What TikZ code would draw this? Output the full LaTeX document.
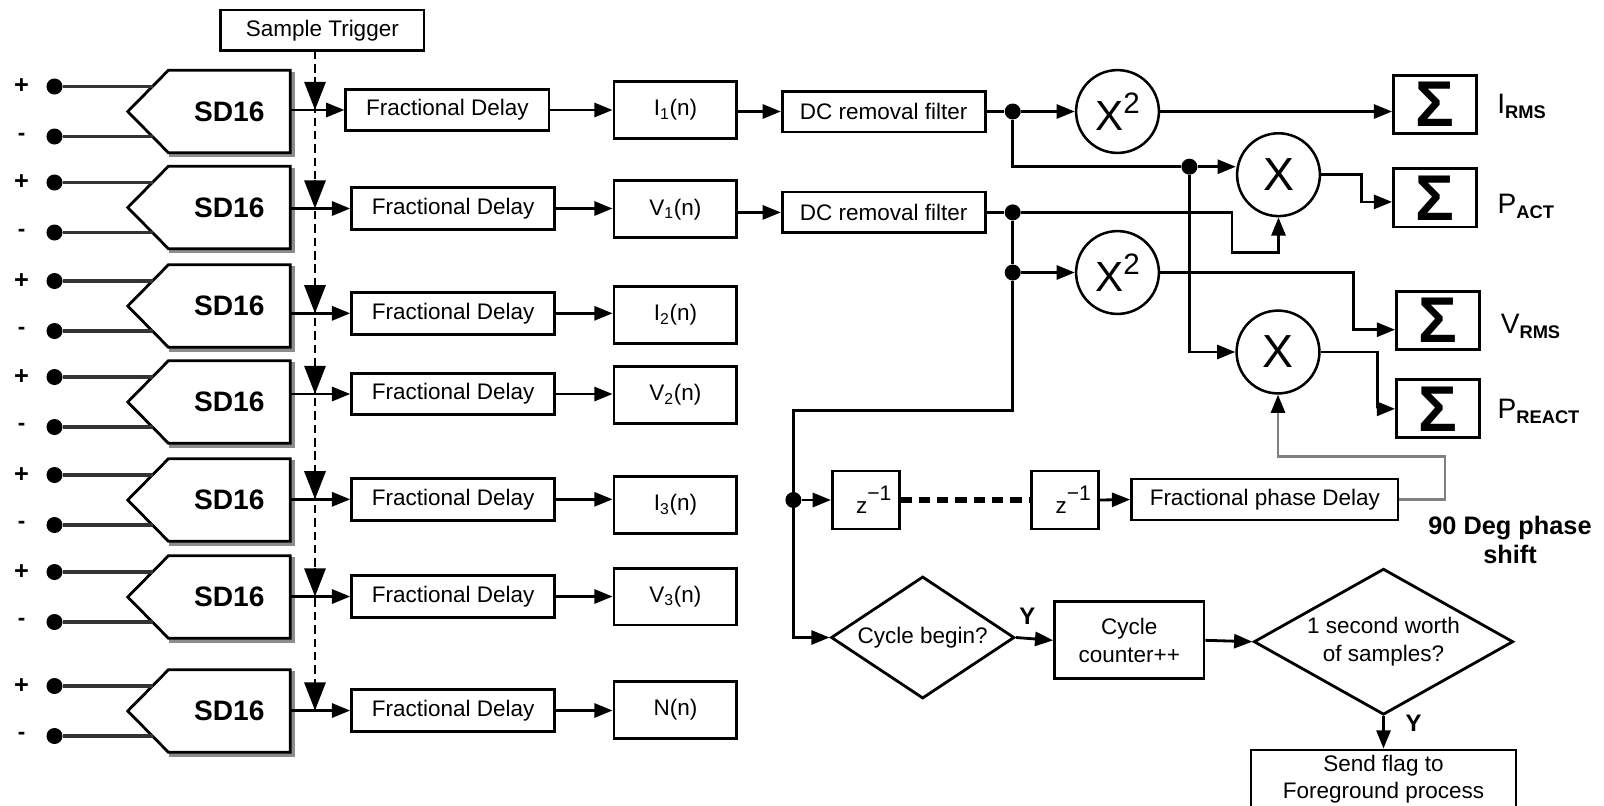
\documentclass[tikz,border=0pt]{standalone}
\usepackage{fontspec}
\setmainfont{Liberation Sans}
\usetikzlibrary{arrows.meta,calc,shapes.geometric}

\tikzset{
  blk/.style={draw, line width=2pt, inner sep=0pt, align=center},
  delaybox/.style={blk, minimum width=5.075cm, minimum height=1.04cm},
  samplebox/.style={blk, minimum width=3.07cm, minimum height=1.42cm},
  filterbox/.style={blk, minimum width=5.07cm, minimum height=1.02cm},
  sumbox/.style={blk, minimum width=2.075cm, minimum height=1.45cm, font=\fontsize{46}{46}\selectfont\bfseries},
  zbox/.style={blk, minimum width=1.67cm, minimum height=1.45cm},
  opnode/.style={circle, draw, line width=1.8pt, inner sep=0pt, minimum size=2.07cm},
  junction/.style={circle, fill, inner sep=0pt, minimum size=0.4cm},
  adcbody/.style={inner sep=0pt, minimum width=3.03cm, minimum height=2.05cm, font=\fontsize{20}{20}\selectfont\bfseries},
  decision/.style={diamond, draw, line width=2pt, inner sep=0pt, align=center},
  flow/.style={line width=2pt, -{Triangle[length=13pt,width=10pt]}},
  wire/.style={line width=2pt},
  trigtip/.style={line width=2pt, -{Triangle[length=20pt,width=15pt]}},
  inwire/.style={line width=2.2pt, black!80},
  outlbl/.style={anchor=base west, inner sep=0pt},
  ylbl/.style={font=\fontsize{17}{17}\selectfont\bfseries},
}

\newcommand{\squared}{X\raisebox{11.9pt}{\fontsize{21}{21}\selectfont 2}}
\newcommand{\zinv}{\hspace*{0.4cm}z\raisebox{9.5pt}{\fontsize{15}{15}\selectfont −1}}
\newcommand{\outname}[2]{\fontsize{20}{20}\selectfont #1\raisebox{-3.5pt}{\fontsize{13}{13}\selectfont\bfseries #2}}

\begin{document}
\begin{tikzpicture}[x=0.025cm, y=-0.025cm, font=\fontsize{16}{19.5}\selectfont]
\useasboundingbox (0,0) rectangle (1604,805);
\clip (0,0) rectangle (1604,805);

% sample trigger
\node[blk, minimum width=5.08cm, minimum height=1.02cm] (trigger) at (322.3,30.35) {Sample Trigger};
\coordinate (tr) at (315,50.7);

% seven SD16 input channels with their fractional delays
\foreach \k/\yc/\yo/\fx in {1/111.5/110/447.4, 2/207.5/208.5/453.2, 3/306/313.3/453.2,
    4/402/394/453.2, 5/500/499.3/453.2, 6/597/596.5/453.2, 7/711/710.5/453.2}{
  \node[adcbody] (sd\k) at (229.35,\yc) {SD16};
  \draw[black!45, line width=3pt] ($(sd\k.north east)+(2.5,1.5)$) -- ($(sd\k.south east)+(2.5,2.5)$) -- ($(sd\k.south west)+(1,2.5)$);
  \draw[line width=2pt, line join=miter] (sd\k.north east) -- (sd\k.north west) -- ($(sd\k.west)+(-40.7,0)$) -- (sd\k.south west) -- (sd\k.south east) -- cycle;
  \node (plus\k) at (21.5,\yc-25) {\fontsize{18}{18}\selectfont\bfseries +};
  \node (minus\k) at (21.5,\yc+25) {\bfseries -};
  \node[junction] (inp\k) at (54.5,\yc-25) {};
  \node[junction] (inn\k) at (54.5,\yc+25) {};
  \draw[inwire] (inp\k.east) -- ($(sd\k.west)+(-15.9,-25)$);
  \draw[inwire] (inn\k.east) -- ($(sd\k.west)+(-15.9,25)$);
  \node[delaybox] (fd\k) at (\fx,\yo) {Fractional Delay};
  \draw[flow] (sd\k.east |- fd\k.west) -- (fd\k.west);
}

% trigger distribution
\draw[line width=2pt, dash pattern=on 6pt off 3.5pt] (tr) -- (tr |- fd7.west);
\foreach \k in {1,...,7}{
  \draw[trigtip] ($(tr |- fd\k.west)+(0,-29)$) -- (tr |- fd\k.west);
}

% sampled signals
\foreach \k/\y/\t in {1/110/{I\textsubscript{1}(n)}, 2/209.3/{V\textsubscript{1}(n)},
    3/314.7/{I\textsubscript{2}(n)}, 4/394.7/{V\textsubscript{2}(n)}, 5/505/{I\textsubscript{3}(n)},
    6/596.5/{V\textsubscript{3}(n)}, 7/710/{N(n)}}{
  \node[samplebox] (smp\k) at (675.4,\y) {\t};
  \draw[flow] (fd\k.east) -- (fd\k.east -| smp\k.west);
}

% DC removal
\node[filterbox] (dc1) at (883.7,111.5) {DC removal filter};
\node[filterbox] (dc2) at (883.7,212.4) {DC removal filter};
\draw[flow] (smp1.east |- dc1.west) -- (dc1.west);
\draw[flow] (smp2.east |- dc2.west) -- (dc2.west);

% junctions
\node[junction] (j1) at (1012.7,111.5) {};
\node[junction] (j2) at (1012.7,212.4) {};
\node[junction] (j3) at (1012.7,272.5) {};
\node[junction] (j4) at (1189.4,166.7) {};
\node[junction] (j5) at (793.4,500) {};
\coordinate (k1) at (1232,252.3);
\coordinate (k2) at (793.4,410.7);
\coordinate (k4) at (1445,456.7);

% operators
\node[opnode, font=\fontsize{30}{30}\selectfont] (sq1) at (1117.5,111.5) {\squared};
\node[opnode, font=\fontsize{30}{30}\selectfont] (sq2) at (1117.5,272.5) {\squared};
\node[opnode, font=\fontsize{33}{33}\selectfont] (mul1) at (1278.5,174.7) {X};
\node[opnode, font=\fontsize{33}{33}\selectfont] (mul2) at (1278,352) {X};

% accumulators
\node[sumbox] (acc1) at (1435,104.2) {Σ};
\node[sumbox] (acc2) at (1435,197.9) {Σ};
\node[sumbox] (acc3) at (1438,320.7) {Σ};
\node[sumbox] (acc4) at (1438,408.8) {Σ};
\node[outlbl] (lrms) at (1497,113.3) {\outname{I}{RMS}};
\node[outlbl] (lact) at (1497.4,213.3) {\outname{P}{ACT}};
\node[outlbl] (lvrms) at (1500.5,333.3) {\outname{V}{RMS}};
\node[outlbl] (lreact) at (1497.4,418.3) {\outname{P}{REACT}};

% power computation wiring
\draw[wire] (dc1.east) -- (j1);
\draw[wire] (dc2.east) -- (j2);
\draw[flow] (j1) -- (sq1.west);
\draw[flow] (sq1.east) -- (sq1.east -| acc1.west);
\draw[wire] (j1) |- (j4);
\draw[flow] (j4) -- (j4 -| mul1.west);
\draw[flow] (mul1.east) -- ++(40,0) |- ($(acc2.west)+(0,4)$);
\draw[flow] (j2) -| (k1) -| (mul1.south);
\draw[wire] (j2) -- (j3);
\draw[flow] (j3) -- (sq2.west);
\draw[flow] (sq2.east) -- ++(193,0) |- ($(acc3.west)+(0,9)$);
\draw[flow] (j4) |- (mul2.west);
\draw[flow] (mul2.east) -- ++(57,0) |- (acc4.west);
\draw[wire] (j3) |- (k2) -- (j5);

% 90 degree phase shift chain
\node[zbox] (z1) at (865.8,500) {\zinv};
\node[zbox] (z2) at (1065.3,500) {\zinv};
\node[blk, minimum width=6.66cm, minimum height=1.025cm] (fpd) at (1264.8,499.5) {Fractional phase Delay};
\node[font=\fontsize{18}{20.6}\selectfont\bfseries, align=center] (ph) at (1510,539.5) {90 Deg phase\\shift};
\draw[flow] (j5) -- (z1.west);
\draw[line width=4pt, dash pattern=on 8pt off 5pt] (z1.east) -- (z2.west);
\draw[flow] (z2.east) -- (fpd.west);
\draw[line width=2pt, black!50, -{Triangle[length=13pt,width=10pt,color=black]}] (fpd.east) -| (k4) -| (mul2.south);

% cycle counting
\node[decision, minimum width=4.585cm, minimum height=3.05cm, aspect=1.5] (cb) at (922.7,637.5) {Cycle begin?};
\node[blk, minimum width=3.73cm, minimum height=1.92cm] (cc) at (1129.3,640.3) {Cycle\\counter++};
\node[decision, minimum width=6.485cm, minimum height=3.65cm, aspect=1.78] (d2) at (1383.5,641.7) {1 second worth\\of samples?};
\node[blk, minimum width=6.625cm, minimum height=1.45cm] (sf) at (1383.5,779) {Send flag to\\Foreground process};
\node[ylbl] (y1) at (1027.4,616.7) {Y};
\node[ylbl] (y2) at (1413.7,723.3) {Y};
\draw[flow] (j5) |- (cb.west);
\draw[flow] (cb.east) -- (cc.west);
\draw[flow] (cc.east) -- (d2.west);
\draw[flow] (d2.south) -- (sf.north);
\end{tikzpicture}
\end{document}
